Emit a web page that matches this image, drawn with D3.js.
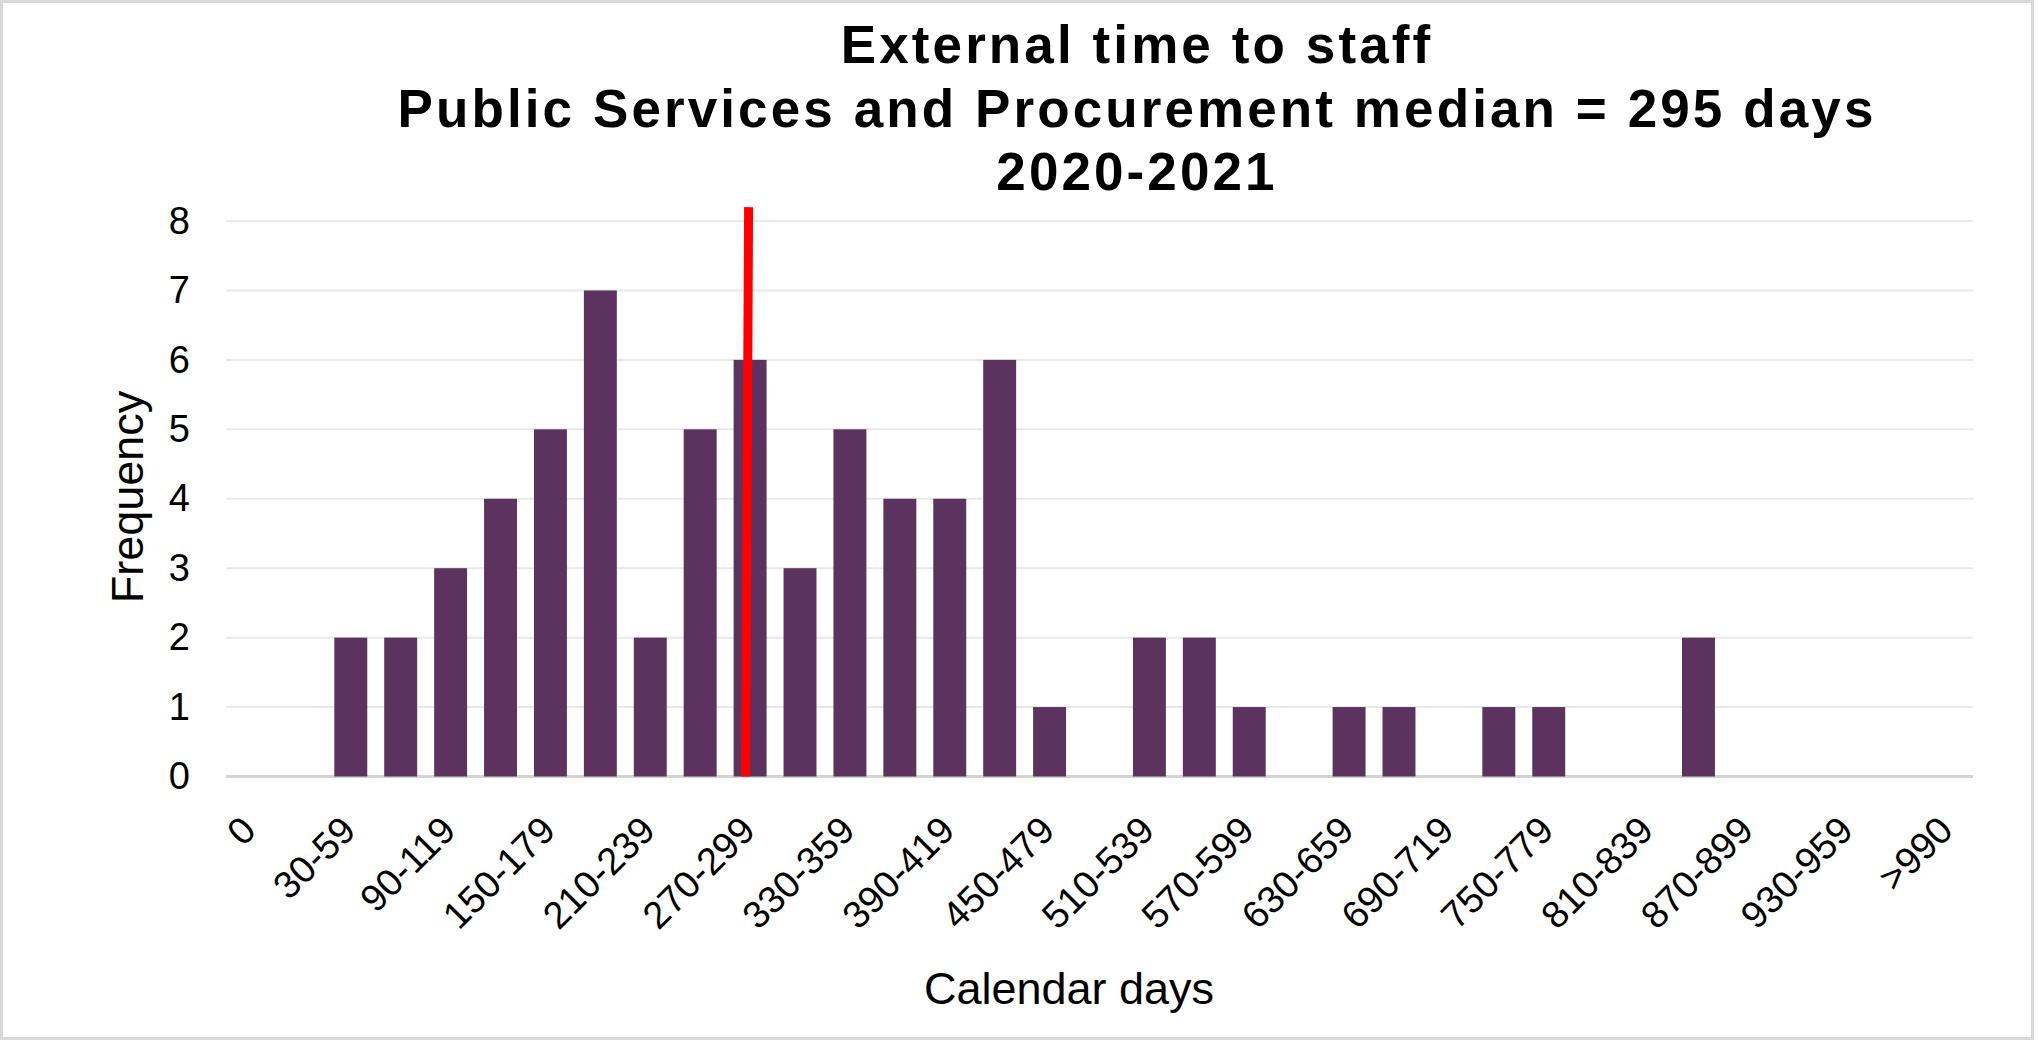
<!DOCTYPE html>
<html>
<head>
    <title>External time to staff</title>
    <script src="https://d3js.org/d3.v7.min.js"></script>
    <style>
        body { margin: 0; background: #ffffff; }
        text { font-family: "Liberation Sans", Arial, sans-serif; fill: #000; }
        .title { font-weight: 700; font-size: 53px; letter-spacing: 3.1px; }
        .tick text { font-size: 38px; }
        .axisLabel { font-size: 45px; }
    </style>
</head>
<body>
    <div id="chart"></div>
    <script>
        const width = 2041, height = 1042

        // data
        const categories = ["0", "1-29", "30-59", "60-89", "90-119", "120-149", "150-179", "180-209",
            "210-239", "240-269", "270-299", "300-329", "330-359", "360-389", "390-419", "420-449",
            "450-479", "480-509", "510-539", "540-569", "570-599", "600-629", "630-659", "660-689",
            "690-719", "720-749", "750-779", "780-809", "810-839", "840-869", "870-899", "900-929",
            "930-959", "960-989", ">990"]
        const frequency = [0, 0, 2, 2, 3, 4, 5, 7, 2, 5, 6, 3, 5, 4, 4, 6, 1, 0, 2, 2, 1, 0, 1, 1, 0, 1, 1, 0, 0, 2, 0, 0, 0, 0, 0]
        const yTicks = [0, 1, 2, 3, 4, 5, 6, 7, 8]
        // median marker, position in category units along the axis
        const medianPos = [10.41, 10.47]
        const medianFreq = [0, 8.2]
        const titleLines = ["External time to staff", "Public Services and Procurement median = 295 days", "2020-2021"]

        const margin = { left: 226, right: width - 1973, top: 221, bottom: height - 776.5 }

        const svg = d3.select("#chart").append("svg")
            .attr("width", width)
            .attr("height", height)

        // frame
        svg.append("rect")
            .attr("x", 1.5).attr("y", 1.5)
            .attr("width", 2031).attr("height", 1037)
            .attr("fill", "#fff")
            .attr("stroke", "#d9d9d9")
            .attr("stroke-width", 3)

        const x = d3.scaleBand()
            .domain(categories)
            .range([margin.left, width - margin.right])
            .paddingInner(0.34)
            .paddingOuter(0.17)

        const xPos = d3.scaleLinear()
            .domain([0, categories.length])
            .range([margin.left, width - margin.right])

        const y = d3.scaleLinear()
            .domain([0, 8])
            .range([height - margin.bottom, margin.top])

        // gridlines
        svg.append("g")
            .selectAll("line")
            .data(yTicks)
            .join("line")
            .attr("x1", margin.left)
            .attr("x2", width - margin.right)
            .attr("y1", d => y(d))
            .attr("y2", d => y(d))
            .attr("stroke", d => d === 0 ? "#d4d4d4" : "#e9e9e9")
            .attr("stroke-width", d => d === 0 ? 3 : 2)

        // y axis labels
        const yAxis = svg.append("g")
            .attr("transform", `translate(${margin.left - 36},0)`)
            .call(d3.axisLeft(y).tickValues(yTicks).tickSize(0).tickPadding(0))
        yAxis.select(".domain").remove()
        yAxis.selectAll("text").attr("font-family", null).attr("font-size", null)

        // bars
        svg.append("g")
            .selectAll("rect")
            .data(categories.map((c, i) => ({ cat: c, value: frequency[i] })))
            .join("rect")
            .attr("x", d => x(d.cat))
            .attr("width", x.bandwidth())
            .attr("y", d => y(d.value))
            .attr("height", d => y(0) - y(d.value))
            .attr("fill", "#5b335e")

        // median line
        const line = d3.line()
            .x((d, i) => xPos(medianPos[i]))
            .y(d => y(d))
        svg.append("path")
            .datum(medianFreq)
            .attr("d", line)
            .attr("stroke", "#ff0000")
            .attr("stroke-width", 9)
            .attr("fill", "none")

        // x axis labels, every other category
        const xAxis = svg.append("g")
            .attr("transform", `translate(0,${y(0)})`)
            .call(d3.axisBottom(x)
                .tickValues(categories.filter((c, i) => i % 2 === 0))
                .tickSize(0))
        xAxis.select(".domain").remove()
        xAxis.selectAll("text")
            .attr("font-family", null).attr("font-size", null)
            .attr("y", null).attr("dy", null)
            .attr("text-anchor", "end")
            .attr("transform", "translate(7,56) rotate(-45)")

        // axis titles
        svg.append("text")
            .attr("class", "axisLabel")
            .attr("x", 1069)
            .attr("y", 1004)
            .attr("text-anchor", "middle")
            .text("Calendar days")

        svg.append("text")
            .attr("class", "axisLabel")
            .attr("transform", "translate(143,497) rotate(-90)")
            .attr("text-anchor", "middle")
            .text("Frequency")

        // title
        svg.append("g")
            .selectAll("text")
            .data(titleLines)
            .join("text")
            .attr("class", "title")
            .attr("x", 1137)
            .attr("y", (d, i) => 63 + i * 63.5)
            .attr("text-anchor", "middle")
            .text(d => d)
    </script>
</body>
</html>
